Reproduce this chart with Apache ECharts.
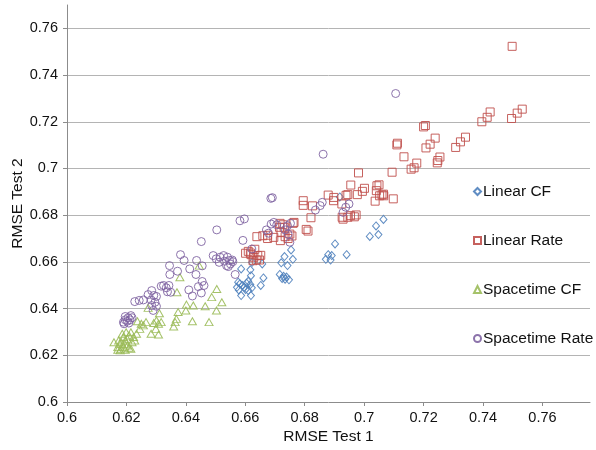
<!DOCTYPE html>
<html>
<head>
<meta charset="utf-8">
<script src="https://cdn.jsdelivr.net/npm/echarts@6/dist/echarts.min.js"></script>
<style>
  html, body { margin: 0; padding: 0; background: #ffffff; }
  #chart { width: 596px; height: 450px; }
</style>
</head>
<body>
<div id="chart"></div>
<script>
// Axis ticks
const xTicks = [0.6, 0.62, 0.64, 0.66, 0.68, 0.7, 0.72, 0.74, 0.76];
const yTicks = [0.6, 0.62, 0.64, 0.66, 0.68, 0.7, 0.72, 0.74, 0.76];

const seriesNames = ['Linear CF', 'Linear Rate', 'Spacetime CF', 'Spacetime Rate'];

// [RMSE Test 1, RMSE Test 2]
const linearCF = [
  [0.7065, 0.6782], [0.7040, 0.6754], [0.7048, 0.6717], [0.7019, 0.6709],
  [0.6902, 0.6677], [0.6941, 0.6631], [0.6879, 0.6631], [0.6891, 0.6627],
  [0.6871, 0.6611], [0.6887, 0.6608], [0.6918, 0.6878], [0.6754, 0.6651],
  [0.6760, 0.6611], [0.6732, 0.6623], [0.6742, 0.6584], [0.6721, 0.6596],
  [0.6716, 0.6546], [0.6724, 0.6529], [0.6734, 0.6526], [0.6739, 0.6535],
  [0.6747, 0.6523], [0.6729, 0.6538], [0.6657, 0.6591], [0.6661, 0.6531],
  [0.6652, 0.6499], [0.6623, 0.6598], [0.6617, 0.6566], [0.6619, 0.6541],
  [0.6586, 0.6570], [0.6576, 0.6513], [0.6582, 0.6506], [0.6572, 0.6491],
  [0.6591, 0.6499], [0.6597, 0.6491], [0.6604, 0.6509], [0.6610, 0.6517],
  [0.6617, 0.6503], [0.6622, 0.6489], [0.6610, 0.6477], [0.6586, 0.6456],
  [0.6619, 0.6456], [0.6578, 0.6480], [0.6601, 0.6482]
];

const linearRate = [
  [0.7498, 0.7523], [0.7396, 0.7200], [0.7414, 0.7219], [0.7424, 0.7242],
  [0.7496, 0.7214], [0.7515, 0.7237], [0.7532, 0.7254], [0.7200, 0.7178],
  [0.7206, 0.7184], [0.7110, 0.7101], [0.7112, 0.7108], [0.7208, 0.7088],
  [0.7222, 0.7104], [0.7239, 0.7130], [0.7308, 0.7090], [0.7324, 0.7114],
  [0.7341, 0.7134], [0.7134, 0.7050], [0.7246, 0.7024], [0.7248, 0.7034],
  [0.7255, 0.7049], [0.7158, 0.6997], [0.7168, 0.7003], [0.7177, 0.7023],
  [0.7094, 0.6984], [0.6981, 0.6981], [0.6955, 0.6929], [0.6939, 0.6885],
  [0.6945, 0.6888], [0.6977, 0.6888], [0.6994, 0.6902], [0.7001, 0.6915],
  [0.7043, 0.6926], [0.7050, 0.6930], [0.7041, 0.6905], [0.7052, 0.6883],
  [0.7060, 0.6887], [0.7066, 0.6883], [0.7065, 0.6890], [0.7037, 0.6860],
  [0.7098, 0.6870], [0.6879, 0.6886], [0.6898, 0.6876], [0.6897, 0.6862],
  [0.6795, 0.6862], [0.6795, 0.6842], [0.6826, 0.6840], [0.6821, 0.6789],
  [0.6925, 0.6848], [0.6926, 0.6791], [0.6929, 0.6783], [0.6945, 0.6791],
  [0.6954, 0.6798], [0.6973, 0.6801], [0.6967, 0.6793], [0.6805, 0.6739],
  [0.6811, 0.6732], [0.6764, 0.6769], [0.6761, 0.6765], [0.6717, 0.6765],
  [0.6726, 0.6759], [0.6731, 0.6748], [0.6715, 0.6748], [0.6720, 0.6727],
  [0.6734, 0.6708], [0.6744, 0.6700], [0.6750, 0.6719], [0.6757, 0.6711],
  [0.6718, 0.6691], [0.6696, 0.6705], [0.6675, 0.6700], [0.6675, 0.6714],
  [0.6659, 0.6712], [0.6639, 0.6708], [0.6601, 0.6637], [0.6610, 0.6645],
  [0.6619, 0.6631], [0.6629, 0.6620], [0.6632, 0.6654], [0.6642, 0.6627],
  [0.6648, 0.6608], [0.6626, 0.6605], [0.6637, 0.6608], [0.6652, 0.6628],
  [0.6617, 0.6638]
];

const spacetimeCF = [
  [0.6380, 0.6534], [0.6370, 0.6470], [0.6445, 0.6584], [0.6504, 0.6484],
  [0.6487, 0.6449], [0.6521, 0.6427], [0.6465, 0.6410], [0.6503, 0.6392],
  [0.6478, 0.6342], [0.6402, 0.6417], [0.6425, 0.6413], [0.6400, 0.6392],
  [0.6422, 0.6346], [0.6374, 0.6385], [0.6368, 0.6356], [0.6364, 0.6342],
  [0.6359, 0.6323], [0.6311, 0.6380], [0.6317, 0.6342], [0.6308, 0.6335],
  [0.6301, 0.6349], [0.6292, 0.6338], [0.6299, 0.6313], [0.6283, 0.6292],
  [0.6308, 0.6289], [0.6273, 0.6403], [0.6266, 0.6342], [0.6257, 0.6328],
  [0.6250, 0.6335], [0.6237, 0.6346], [0.6245, 0.6313], [0.6234, 0.6292],
  [0.6224, 0.6278], [0.6215, 0.6299], [0.6209, 0.6285], [0.6203, 0.6271],
  [0.6196, 0.6263], [0.6190, 0.6278], [0.6183, 0.6256], [0.6177, 0.6249],
  [0.6171, 0.6235], [0.6181, 0.6228], [0.6190, 0.6235], [0.6196, 0.6224],
  [0.6203, 0.6242], [0.6209, 0.6232], [0.6215, 0.6228], [0.6158, 0.6256],
  [0.6174, 0.6263], [0.6194, 0.6249], [0.6186, 0.6292], [0.6199, 0.6299],
  [0.6228, 0.6263], [0.6219, 0.6256], [0.6171, 0.6224], [0.6179, 0.6221]
];

const spacetimeRate = [
  [0.7106, 0.7321], [0.6862, 0.7061], [0.6691, 0.6875], [0.6686, 0.6872],
  [0.6859, 0.6855], [0.6852, 0.6841], [0.6836, 0.6822], [0.6949, 0.6848],
  [0.6938, 0.6834], [0.6929, 0.6812], [0.6582, 0.6776], [0.6597, 0.6784],
  [0.6504, 0.6737], [0.6592, 0.6692], [0.6452, 0.6687], [0.6671, 0.6737],
  [0.6678, 0.6723], [0.6687, 0.6762], [0.6696, 0.6769], [0.6706, 0.6759],
  [0.6742, 0.6755], [0.6752, 0.6765], [0.6734, 0.6737], [0.6744, 0.6719],
  [0.6750, 0.6684], [0.6622, 0.6655], [0.6566, 0.6546], [0.6492, 0.6627],
  [0.6502, 0.6613], [0.6515, 0.6620], [0.6527, 0.6627], [0.6540, 0.6620],
  [0.6512, 0.6598], [0.6530, 0.6603], [0.6547, 0.6606], [0.6556, 0.6608],
  [0.6537, 0.6584], [0.6550, 0.6591], [0.6543, 0.6580], [0.6558, 0.6601],
  [0.6382, 0.6631], [0.6394, 0.6606], [0.6345, 0.6584], [0.6413, 0.6570],
  [0.6436, 0.6606], [0.6455, 0.6583], [0.6434, 0.6546], [0.6346, 0.6546],
  [0.6372, 0.6560], [0.6317, 0.6496], [0.6325, 0.6499], [0.6334, 0.6489],
  [0.6343, 0.6499], [0.6338, 0.6472], [0.6349, 0.6470], [0.6455, 0.6516],
  [0.6442, 0.6494], [0.6461, 0.6499], [0.6452, 0.6467], [0.6410, 0.6480],
  [0.6422, 0.6454], [0.6228, 0.6430], [0.6243, 0.6435], [0.6257, 0.6437],
  [0.6273, 0.6460], [0.6285, 0.6477], [0.6292, 0.6456], [0.6301, 0.6452],
  [0.6283, 0.6437], [0.6296, 0.6427], [0.6301, 0.6410], [0.6285, 0.6413],
  [0.6290, 0.6392], [0.6215, 0.6370], [0.6206, 0.6361], [0.6196, 0.6352],
  [0.6190, 0.6342], [0.6203, 0.6346], [0.6212, 0.6352], [0.6219, 0.6361],
  [0.6196, 0.6366], [0.6208, 0.6338], [0.6192, 0.6335]
];

const seriesData = [linearCF, linearRate, spacetimeCF, spacetimeRate];
const seriesColors = ['#4F81BD', '#C0504D', '#9BBB59', '#8064A2'];
const seriesSymbols = ['diamond', 'rect', 'triangle', 'circle'];
const seriesSizes = [[7, 8], 8, [8, 7], 8];

const fontFamily = '"Liberation Sans", Arial, sans-serif';
const fmt = v => String(+(+v).toFixed(2));

const chart = echarts.init(document.getElementById('chart'), null, { renderer: 'canvas' });

chart.setOption({
  animation: false,
  backgroundColor: '#ffffff',
  grid: { left: 67, right: 6, top: 5, bottom: 48, containLabel: false, outerBoundsMode: 'none' },
  legend: {
    orient: 'vertical',
    left: 468,
    top: 178,
    itemWidth: 7,
    itemHeight: 7,
    itemGap: 32,
    textStyle: { fontFamily, fontSize: 15.5, color: '#111', lineHeight: 17, padding: [0, 0, 0, -3] },
    data: seriesNames.map((n, i) => ({ name: n, icon: seriesSymbols[i] }))
  },
  xAxis: {
    type: 'value',
    min: xTicks[0],
    max: 0.776,
    interval: 0.02,
    name: 'RMSE Test 1',
    nameLocation: 'middle',
    nameGap: 27,
    nameMoveOverlap: false,
    nameTextStyle: { fontFamily, fontSize: 15.5, color: '#111' },
    axisLine: { show: true, lineStyle: { color: '#8c8c8c', width: 1 } },
    axisTick: { show: true, length: 4, lineStyle: { color: '#8c8c8c' } },
    axisLabel: { fontFamily, fontSize: 14.5, color: '#111', margin: 8, showMaxLabel: false, formatter: fmt },
    splitLine: { show: false }
  },
  yAxis: {
    type: 'value',
    min: yTicks[0],
    max: 0.77,
    interval: 0.02,
    name: 'RMSE Test 2',
    nameLocation: 'middle',
    nameGap: 41,
    nameMoveOverlap: false,
    nameRotate: 90,
    nameTextStyle: { fontFamily, fontSize: 15.5, color: '#111' },
    axisLine: { show: true, lineStyle: { color: '#8c8c8c', width: 1 } },
    axisTick: { show: true, length: 4, lineStyle: { color: '#8c8c8c' } },
    axisLabel: { fontFamily, fontSize: 14.5, color: '#111', margin: 9, showMaxLabel: false, formatter: fmt },
    splitLine: { show: true, showMinLine: false, showMaxLine: false, lineStyle: { color: '#b4b4b4', width: 1 } }
  },
  series: seriesNames.map((name, i) => ({
    name,
    type: 'scatter',
    data: seriesData[i],
    symbol: seriesSymbols[i],
    symbolSize: seriesSizes[i],
    itemStyle: {
      color: 'rgba(255,255,255,0)',
      borderColor: seriesColors[i],
      borderWidth: 1,
      opacity: 0.9
    },
    emphasis: { disabled: true }
  }))
});
</script>
</body>
</html>
